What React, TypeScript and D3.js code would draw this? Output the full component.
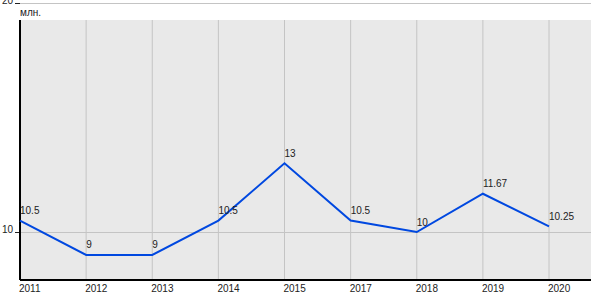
import React from "react";
import * as d3 from "d3";

const years = ["2011", "2012", "2013", "2014", "2015", "2017", "2018", "2019", "2020"];
const values = [10.5, 9, 9, 10.5, 13, 10.5, 10, 11.67, 10.25];
const valueLabels = ["10.5", "9", "9", "10.5", "13", "10.5", "10", "11.67", "10.25"];
const yTicks = [10, 20];
const unitLabel = "млн.";

const W = 600;
const H = 300;
const plotLeft = 20;
const plotRight = 591;
const plotTop = 20;
const plotBottom = 280;

export default function App() {
  const x = d3.scalePoint<string>().domain(years).range([20, 549]);
  const y = d3.scaleLinear().domain([10, 20]).range([232, 3]);
  const line = d3
    .line<number>()
    .x((_, i) => x(years[i]) as number)
    .y((d) => y(d));
  const font = "Arial, 'Liberation Sans', sans-serif";
  return (
    <svg
      width={W}
      height={H}
      style={{ position: "absolute", left: 0, top: 0, fontFamily: font }}
    >
      <rect x={plotLeft} y={plotTop} width={plotRight - plotLeft} height={plotBottom - plotTop} fill="#e9e9e9" />
      {years.map((yr) => (
        <line key={yr} x1={x(yr)} x2={x(yr)} y1={plotTop} y2={plotBottom} stroke="#c4c4c4" strokeWidth={1} />
      ))}
      {yTicks.map((t) => (
        <g key={t}>
          <line x1={plotLeft} x2={plotRight} y1={Math.round(y(t)) + 0.5} y2={Math.round(y(t)) + 0.5} stroke="#c4c4c4" strokeWidth={1} />
          <line x1={15} x2={plotLeft} y1={Math.round(y(t)) + 0.5} y2={Math.round(y(t)) + 0.5} stroke="#222" strokeWidth={1} />
          <text x={13} y={y(t) + 1} textAnchor="end" fontSize={10} fill="#222">
            {t}
          </text>
        </g>
      ))}
      <text x={20} y={16} fontSize={10} fill="#222">
        {unitLabel}
      </text>
      <line x1={plotLeft} x2={plotLeft} y1={plotTop} y2={plotBottom} stroke="#000" strokeWidth={2} />
      <line x1={plotLeft} x2={plotRight} y1={plotBottom} y2={plotBottom} stroke="#000" strokeWidth={2} />
      {years.map((yr) => (
        <text key={yr} x={(x(yr) as number) - 1} y={292} fontSize={10} fill="#222">
          {yr}
        </text>
      ))}
      <path d={line(values) || ""} fill="none" stroke="#0048e0" strokeWidth={2} />
      {values.map((v, i) => (
        <text key={i} x={x(years[i])} y={y(v) - 6.5} fontSize={10} fill="#222">
          {valueLabels[i]}
        </text>
      ))}
    </svg>
  );
}
